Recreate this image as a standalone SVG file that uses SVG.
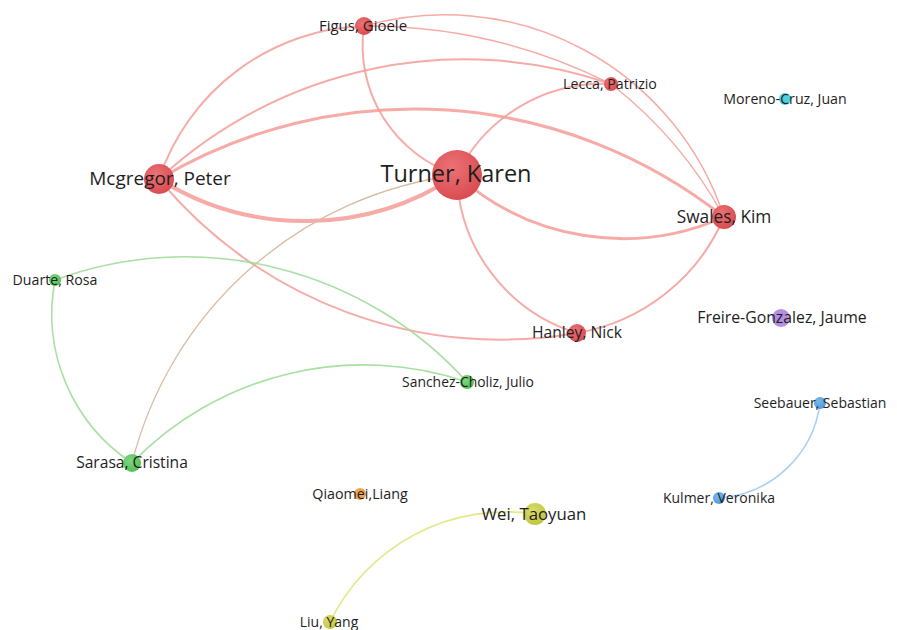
<svg xmlns="http://www.w3.org/2000/svg" width="897" height="630" viewBox="0 0 897 630">
<defs>
<radialGradient id="gRed" cx="40%" cy="35%" r="65%"><stop offset="0" stop-color="#ec7275"/><stop offset="1" stop-color="#d94d52"/></radialGradient>
<radialGradient id="gGreen" cx="40%" cy="35%" r="65%"><stop offset="0" stop-color="#7fd67f"/><stop offset="1" stop-color="#55bf58"/></radialGradient>
<radialGradient id="gYellow" cx="40%" cy="35%" r="65%"><stop offset="0" stop-color="#d9dc6a"/><stop offset="1" stop-color="#c3c640"/></radialGradient>
<radialGradient id="gBlue" cx="40%" cy="35%" r="65%"><stop offset="0" stop-color="#7ab8ea"/><stop offset="1" stop-color="#4f9bd8"/></radialGradient>
</defs>
<style>
.e{fill:none;stroke-linecap:round}
.er{stroke:#f59c98;stroke-opacity:0.85}
.eg{stroke:#9edc98;stroke-opacity:0.9;stroke-width:1.6}
.et{stroke:#d9bba3;stroke-width:1.3}
.ey{stroke:#e4e88e;stroke-width:1.6}
.eb{stroke:#a9cff2;stroke-width:1.6}
.red{fill:url(#gRed)}
.green{fill:url(#gGreen)}
.yellow{fill:url(#gYellow)}
.blue{fill:url(#gBlue)}
text{font-family:"Open Sans","DejaVu Sans",sans-serif;fill:#1e1e1e;text-anchor:middle}
</style>
<rect width="897" height="630" fill="#ffffff"/>
<g id="connectors">
<path class="e er" stroke-width="4" d="M159,179 A274,274 0 0 0 457,175"/>
<path class="e er" stroke-width="3" d="M159,179 A499,499 0 0 1 724,217"/>
<path class="e er" stroke-width="2" d="M159,179 A224,224 0 0 1 364,26"/>
<path class="e er" stroke-width="2" d="M159,179 A449,449 0 0 1 611,84"/>
<path class="e er" stroke-width="2" d="M159,179 A443,443 0 0 0 577,333"/>
<path class="e er" stroke-width="2" d="M364,26 A136,136 0 0 0 457,175"/>
<path class="e er" stroke-width="2" d="M457,175 A162,162 0 0 1 611,84"/>
<path class="e er" stroke-width="3" d="M457,175 A248,248 0 0 0 724,217"/>
<path class="e er" stroke-width="2" d="M457,175 A170,170 0 0 0 577,333"/>
<path class="e er" stroke-width="2" d="M724,217 A195,195 0 0 1 577,333"/>
<path class="e er" stroke-width="1.5" d="M364,26 A544,544 0 0 1 611,84"/>
<path class="e er" stroke-width="1.5" d="M364,26 A294,294 0 0 1 724,217"/>
<path class="e er" stroke-width="1.5" d="M611,84 A427,427 0 0 1 724,217"/>
<path class="e et" d="M457,175 A385,385 0 0 0 132,463"/>
<path class="e eg" d="M55,280 A179,179 0 0 0 132,463"/>
<path class="e eg" d="M55,280 A379,379 0 0 1 467,382"/>
<path class="e eg" d="M132,463 A322,322 0 0 1 467,382"/>
<path class="e ey" d="M535,514 A196,196 0 0 0 330,622"/>
<path class="e eb" d="M820,403 A109,109 0 0 1 719,498"/>
</g>
<g id="node-turner"><circle class="red" cx="457" cy="175" r="25"/><text x="456" y="182" font-size="23.5">Turner, Karen</text></g>
<g id="node-mcgregor"><circle class="red" cx="159" cy="179" r="15"/><text x="160" y="185" font-size="19">Mcgregor, Peter</text></g>
<g id="node-swales"><circle class="red" cx="724" cy="217" r="12"/><text x="724" y="223" font-size="17.3">Swales, Kim</text></g>
<g id="node-figus"><circle class="red" cx="364" cy="26" r="9"/><text x="363" y="31" font-size="15">Figus, Gioele</text></g>
<g id="node-lecca"><circle class="red" cx="611" cy="84" r="7"/><text x="610" y="89" font-size="14.2">Lecca, Patrizio</text></g>
<g id="node-hanley"><circle class="red" cx="577" cy="333" r="9"/><text x="577" y="338" font-size="15.7">Hanley, Nick</text></g>
<g id="node-moreno"><circle fill="#4fd0e0" cx="785" cy="99" r="6"/><text x="785" y="104" font-size="14.2">Moreno-Cruz, Juan</text></g>
<g id="node-freire"><circle fill="#b48ee2" cx="781" cy="318" r="9"/><text x="782" y="323" font-size="15.8">Freire-Gonzalez, Jaume</text></g>
<g id="node-duarte"><circle class="green" cx="55" cy="280" r="6"/><text x="55" y="285" font-size="14.2">Duarte, Rosa</text></g>
<g id="node-sanchez"><circle class="green" cx="467" cy="382" r="7"/><text x="468" y="387" font-size="13.9">Sanchez-Choliz, Julio</text></g>
<g id="node-sarasa"><circle class="green" cx="132" cy="463" r="9"/><text x="132" y="468" font-size="15.6">Sarasa, Cristina</text></g>
<g id="node-seebauer"><circle class="blue" cx="820" cy="403" r="6"/><text x="820" y="408" font-size="14">Seebauer, Sebastian</text></g>
<g id="node-kulmer"><circle class="blue" cx="719" cy="498" r="6"/><text x="719" y="503" font-size="14">Kulmer, Veronika</text></g>
<g id="node-qiaomei"><circle fill="#f0a455" cx="360" cy="494" r="6"/><text x="360" y="499" font-size="14.3">Qiaomei,Liang</text></g>
<g id="node-wei"><circle class="yellow" cx="535" cy="514" r="11"/><text x="534" y="520" font-size="16.8">Wei, Taoyuan</text></g>
<g id="node-liu"><circle class="yellow" cx="330" cy="622" r="7"/><text x="329" y="627" font-size="14">Liu, Yang</text></g>
</svg>
